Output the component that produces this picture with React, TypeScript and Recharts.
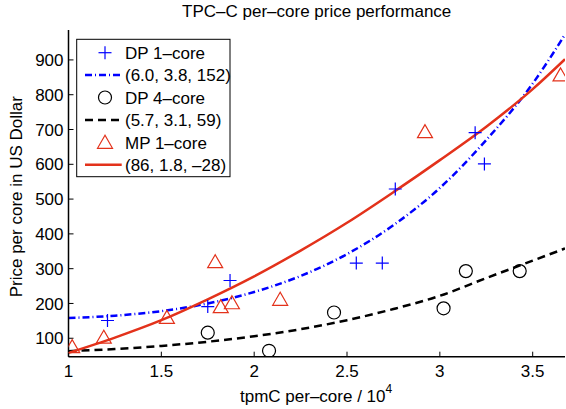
import { ComposedChart, Line, Scatter, XAxis, YAxis } from "recharts";

// x in units of 10^4 tpmC per core, y in US dollars per core
const xTicks = [1, 1.5, 2, 2.5, 3, 3.5];
const yTicks = [100, 200, 300, 400, 500, 600, 700, 800, 900];

const dp1X = [1.21, 1.75, 1.87, 2.55, 2.69, 2.76, 3.19, 3.24];
const dp1Y = [151, 191, 266, 316, 316, 529, 691, 601];

const dp4X = [1.75, 2.08, 2.43, 3.02, 3.14, 3.43];
const dp4Y = [116, 64, 174, 186, 293, 293];

const mp1X = [1.02, 1.19, 1.53, 1.79, 1.82, 1.88, 2.14, 2.92, 3.65];
const mp1Y = [76, 103, 160, 320, 191, 202, 212, 694, 857];

// fitted curves
const fitX = [1, 1.25, 1.5, 1.75, 2, 2.25, 2.5, 2.75, 3, 3.25, 3.5, 3.674];
const dp1Fit = [158, 165, 178, 200, 233, 279, 342, 425, 532, 670, 832, 973];
const dp4Fit = [63, 69, 78, 90, 106, 126, 152, 184, 222, 273, 323, 358];
const mp1Fit = [58, 102, 152, 212, 278, 352, 432, 520, 612, 708, 816, 902];

const labels = ["DP 1\u2013core", "(6.0, 3.8, 152)", "DP 4\u2013core", "(5.7, 3.1, 59)", "MP 1\u2013core", "(86, 1.8, \u201328)"];
const title = "TPC\u2013C per\u2013core price performance";
const xLabel = "tpmC per\u2013core / 10";
const yLabel = "Price per core in US Dollar";

const BLUE = "#0000ff";
const RED = "#e3321b";
const FONT = "'Liberation Sans', Arial, Helvetica, sans-serif";

const zip = (xs: number[], ys: number[]) => xs.map((x, i) => ({ x, y: ys[i] }));

const Plus = (p: any) => (
  <g stroke={BLUE} strokeWidth={1.2}>
    <line x1={p.cx - 6.5} x2={p.cx + 6.5} y1={p.cy} y2={p.cy} />
    <line x1={p.cx} x2={p.cx} y1={p.cy - 6.5} y2={p.cy + 6.5} />
  </g>
);
const Ring = (p: any) => <circle cx={p.cx} cy={p.cy} r={6.5} fill="none" stroke="#000" strokeWidth={1.2} />;
const Tri = (p: any) => (
  <polygon
    points={`${p.cx},${p.cy - 7} ${p.cx - 7.5},${p.cy + 6} ${p.cx + 7.5},${p.cy + 6}`}
    fill="none"
    stroke={RED}
    strokeWidth={1.2}
  />
);

const axisProps = {
  axisLine: { stroke: "#000", strokeWidth: 1.5 },
  tickLine: { stroke: "#000" },
  tickSize: -5,
};

export default function App() {
  const rowY = (i: number) => 52.7 + 22.4 * i;
  return (
    <div style={{ position: "absolute", left: 0, top: 0, width: 566, height: 409, background: "#fff", fontFamily: FONT }}>
      <ComposedChart width={566} height={409} margin={{ top: 30, right: 1, bottom: 0, left: 0 }}>
        <XAxis
          xAxisId="b"
          type="number"
          dataKey="x"
          domain={[1, 3.674]}
          ticks={xTicks}
          allowDataOverflow
          height={52.3}
          tickMargin={13}
          tick={{ fill: "#000", fontSize: 17, fontFamily: FONT }}
          {...axisProps}
        />
        <XAxis
          xAxisId="t"
          orientation="top"
          type="number"
          dataKey="x"
          domain={[1, 3.674]}
          ticks={xTicks}
          allowDataOverflow
          height={0}
          tick={false}
          {...axisProps}
        />
        <YAxis
          yAxisId="l"
          type="number"
          domain={[47, 986]}
          ticks={yTicks}
          allowDataOverflow
          width={68.5}
          tickMargin={10}
          tick={{ fill: "#000", fontSize: 17, fontFamily: FONT }}
          {...axisProps}
        />
        <YAxis
          yAxisId="r"
          orientation="right"
          type="number"
          domain={[47, 986]}
          ticks={yTicks}
          allowDataOverflow
          width={0}
          tick={false}
          {...axisProps}
        />
        <Line
          xAxisId="b"
          yAxisId="l"
          data={zip(fitX, dp4Fit)}
          dataKey="y"
          type="monotone"
          stroke="#000"
          strokeWidth={2.5}
          strokeDasharray="8 5"
          dot={false}
          isAnimationActive={false}
        />
        <Line
          xAxisId="b"
          yAxisId="l"
          data={zip(fitX, dp1Fit)}
          dataKey="y"
          type="monotone"
          stroke={BLUE}
          strokeWidth={2.5}
          strokeDasharray="7 3 1 3"
          dot={false}
          isAnimationActive={false}
        />
        <Line
          xAxisId="b"
          yAxisId="l"
          data={zip(fitX, mp1Fit)}
          dataKey="y"
          type="monotone"
          stroke={RED}
          strokeWidth={2.5}
          dot={false}
          isAnimationActive={false}
        />
        <Scatter xAxisId="b" yAxisId="l" data={zip(dp1X, dp1Y)} dataKey="y" shape={Plus} isAnimationActive={false} />
        <Scatter xAxisId="b" yAxisId="l" data={zip(dp4X, dp4Y)} dataKey="y" shape={Ring} isAnimationActive={false} />
        <Scatter xAxisId="b" yAxisId="l" data={zip(mp1X, mp1Y)} dataKey="y" shape={Tri} isAnimationActive={false} />
      </ComposedChart>

      <svg width={566} height={409} style={{ position: "absolute", left: 0, top: 0, pointerEvents: "none" }} fontFamily={FONT} fontSize={17}>
        <text x={316.7} y={17} textAnchor="middle">{title}</text>
        <text x={240} y={401.7}>
          {xLabel}
          <tspan dy={-9} fontSize={12}>4</tspan>
        </text>
        <text transform="translate(22,196.7) rotate(-90)" textAnchor="middle">{yLabel}</text>

        <rect x={76.7} y={39.3} width={153.3} height={137.4} fill="#fff" stroke="#000" strokeWidth={1} />
        <Plus cx={105} cy={rowY(0)} />
        <line x1={85} x2={121.7} y1={rowY(1)} y2={rowY(1)} stroke={BLUE} strokeWidth={2.5} strokeDasharray="7 3 1 3" />
        <Ring cx={105} cy={rowY(2)} />
        <line x1={85} x2={121.7} y1={rowY(3)} y2={rowY(3)} stroke="#000" strokeWidth={2.5} strokeDasharray="8 5" />
        <Tri cx={105} cy={rowY(4)} />
        <line x1={85} x2={121.7} y1={rowY(5)} y2={rowY(5)} stroke={RED} strokeWidth={2.5} />
        {labels.map((t, i) => (
          <text key={t} x={125} y={rowY(i) + 6.3}>{t}</text>
        ))}
      </svg>
    </div>
  );
}
